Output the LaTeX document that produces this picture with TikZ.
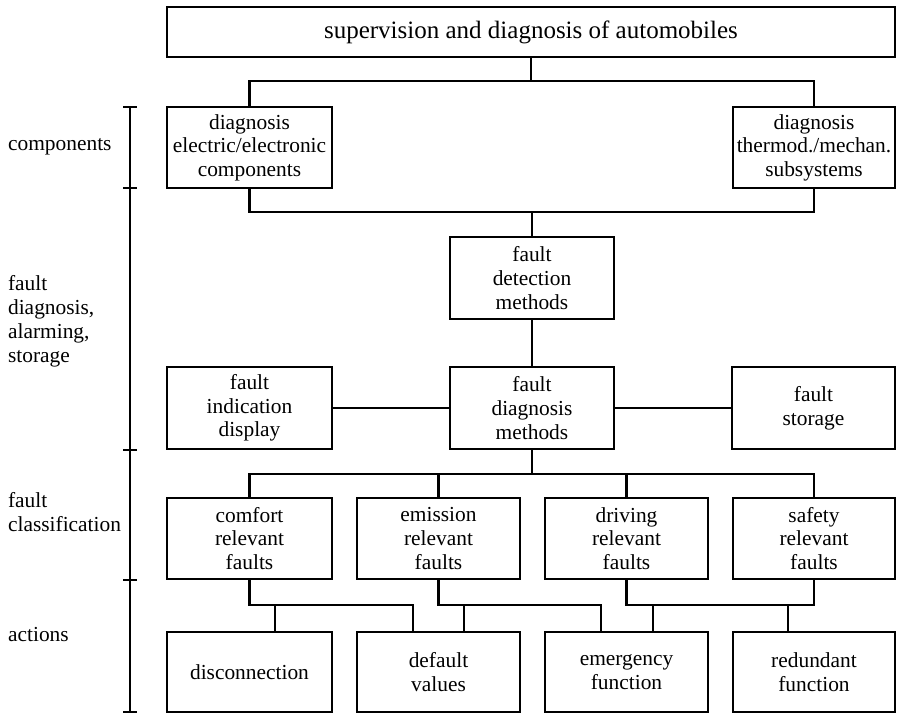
\documentclass[tikz,border=0pt]{standalone}
\usepackage{fontspec}
\setmainfont{Liberation Serif}
\begin{document}
\begin{tikzpicture}[x=1pt,y=-1pt,
  line width=2.2pt,
  box/.style={draw, rectangle, align=center, inner sep=0pt,
    font=\fontsize{21.4}{23.6}\selectfont},
  lbl/.style={anchor=west, align=left, inner sep=0pt,
    font=\fontsize{21.4}{24}\selectfont},
  conn/.style={line width=2.2pt}]
\useasboundingbox (0,0) rectangle (897,713);

% top level
\node[box, minimum width=728pt, minimum height=50pt,
  font=\fontsize{25}{28}\selectfont] (top) at (531,32)
  {supervision and diagnosis of automobiles};

% components
\node[box, minimum width=165pt, minimum height=81pt] (compL) at (249.5,147.5)
  {diagnosis\\electric/electronic\\components};
\node[box, minimum width=162pt, minimum height=81pt] (compR) at (814,147.5)
  {diagnosis\\thermod./mechan.\\subsystems};

% fault diagnosis, alarming, storage
\node[box, minimum width=164pt, minimum height=82pt] (detect) at (532,278)
  {fault\\detection\\methods};
\node[box, minimum width=165pt, minimum height=82pt] (indic) at (249.5,408)
  {fault\\indication\\display};
\node[box, minimum width=164pt, minimum height=82pt] (diagm) at (532,408)
  {fault\\diagnosis\\methods};
\node[box, minimum width=163pt, minimum height=82pt] (stor) at (813.5,408)
  {fault\\storage};

% fault classification
\node[box, minimum width=165pt, minimum height=81pt] (comfort) at (249.5,538.5)
  {comfort\\relevant\\faults};
\node[box, minimum width=163pt, minimum height=81pt] (emission) at (438.5,538.5)
  {emission\\relevant\\faults};
\node[box, minimum width=163pt, minimum height=81pt] (driving) at (626.5,538.5)
  {driving\\relevant\\faults};
\node[box, minimum width=162pt, minimum height=81pt] (safety) at (814,538.5)
  {safety\\relevant\\faults};

% actions
\node[box, minimum width=165pt, minimum height=80pt] (discon) at (249.5,672)
  {disconnection};
\node[box, minimum width=163pt, minimum height=80pt] (default) at (438.5,672)
  {default\\values};
\node[box, minimum width=163pt, minimum height=80pt] (emerg) at (626.5,672)
  {emergency\\function};
\node[box, minimum width=162pt, minimum height=80pt] (redund) at (814,672)
  {redundant\\function};

% bus levels and branch points
\coordinate (busA) at (533,81);
\coordinate (busB) at (532,212);
\coordinate (busC) at (532,474);
\coordinate (cA) at (413,605);
\coordinate (cB) at (275,605);
\coordinate (eA) at (601,605);
\coordinate (eB) at (464,605);
\coordinate (dA) at (653,605);
\coordinate (dB) at (788,605);

% connectors
\draw[conn] (top.south) -- (top.south |- busA);
\draw[conn] (compL.north) |- (busA) -| (compR.north);
\draw[conn] (compL.south) |- (busB) -| (compR.south);
\draw[conn] (busB) -- (detect.north);
\draw[conn] (detect.south) -- (diagm.north);
\draw[conn] (indic.east) -- (diagm.west);
\draw[conn] (diagm.east) -- (stor.west);
\draw[conn] (diagm.south) -- (busC);
\draw[conn] (comfort.north) |- (busC) -| (safety.north);
\draw[conn] (emission.north) -- (emission.north |- busC);
\draw[conn] (driving.north) -- (driving.north |- busC);

\draw[conn] (comfort.south) |- (cA) -- (cA |- default.north);
\draw[conn] (cB) -- (cB |- discon.north);
\draw[conn] (emission.south) |- (eA) -- (eA |- emerg.north);
\draw[conn] (eB) -- (eB |- default.north);
\draw[conn] (driving.south) |- (dA) -- (dB) -| (safety.south);
\draw[conn] (dA) -- (dA |- emerg.north);
\draw[conn] (dB) -- (dB |- redund.north);

% level scale on the left
\draw (130,107) -- (130,712);
\foreach \t in {107,188,450,580,712}
  \draw (123,\t) -- (137,\t);

% level labels
\node[lbl] (lcomp) at (7,147) {components};
\node[lbl] (ldiag) at (7,321) {fault\\diagnosis,\\alarming,\\storage};
\node[lbl] (lclass) at (7,512) {fault\\classification};
\node[lbl] (lact) at (7,635) {actions};
\end{tikzpicture}
\end{document}
